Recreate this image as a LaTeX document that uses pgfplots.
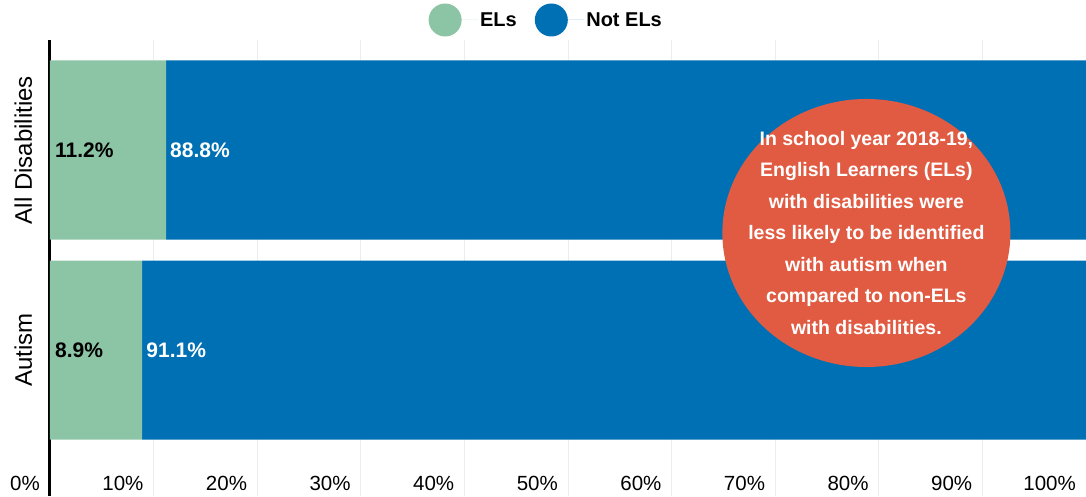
\documentclass[border=0pt]{standalone}
\usepackage{pgfplots}
\pgfplotsset{compat=1.18}
\usepackage{fontspec}
\setmainfont{Liberation Sans}

\definecolor{elgreen}{HTML}{8CC4A6}
\definecolor{notelblue}{HTML}{0070B4}
\definecolor{calloutred}{HTML}{E05B42}
\definecolor{gridgray}{HTML}{EDEDED}

\begin{document}
\begin{tikzpicture}
\begin{axis}[
    xbar stacked,
    scale only axis,
    width=1036pt, height=456pt,
    xmin=0, xmax=100,
    ymin=-0.73, ymax=1.55,
    bar width=0.895,
    clip=false,
    axis y line*=left,
    axis x line*=bottom,
    x axis line style={draw=none},
    y axis line style={black, line width=3pt},
    major tick length=0pt,
    xmajorgrids=true,
    grid style={gridgray, line width=1pt},
    xtick={0,10,...,100},
    xticklabels={0\%,10\%,20\%,30\%,40\%,50\%,60\%,70\%,80\%,90\%,100\%},
    xticklabel style={anchor=east, inner sep=0pt, xshift=-10pt, yshift=13pt,
        font=\fontsize{20.5}{22}\selectfont, text=black},
    ytick={0,1},
    yticklabels={Autism, All Disabilities},
    yticklabel style={xshift=-18pt, rotate=90, anchor=base, inner sep=0pt,
        font=\fontsize{24}{26}\selectfont, text=black},
    legend columns=2,
    legend image code/.code={\fill[#1, draw=none] (0pt,0pt) circle (16.5pt);
        \path (-16.5pt,0pt) -- (33pt,0pt);},
    legend style={at={(0.479,1)}, anchor=center, yshift=20pt, draw=none, fill=none,
        font=\bfseries\fontsize{20}{22}\selectfont,
        /tikz/every even column/.append style={column sep=16pt}},
]

\addplot[fill=elgreen, draw=none] coordinates {(8.9,0) (11.2,1)};
\addplot[fill=notelblue, draw=none] coordinates {(91.1,0) (88.8,1)};
\legend{ELs, Not ELs}

% anchor points for the labels drawn on top after the axis
\coordinate (l1) at (axis cs:0,1);
\coordinate (l2) at (axis cs:11.2,1);
\coordinate (l3) at (axis cs:0,0);
\coordinate (l4) at (axis cs:8.9,0);
\coordinate (c) at (axis cs:78.8,0.585);
\coordinate (bl) at (rel axis cs:0,0);
\coordinate (tr) at (rel axis cs:1,1);
\end{axis}

\tikzset{barlabel/.style={anchor=west, inner sep=0pt, font=\bfseries\fontsize{21}{22}\selectfont}}
\node[barlabel, xshift=5pt, text=black] at (l1) {11.2\%};
\node[barlabel, xshift=4pt, text=white] at (l2) {88.8\%};
\node[barlabel, xshift=5pt, text=black] at (l3) {8.9\%};
\node[barlabel, xshift=4pt, text=white] at (l4) {91.1\%};

\fill[calloutred] (c) ellipse[x radius=144pt, y radius=134pt];
\node[align=center, text=white, font=\bfseries\fontsize{19.5}{31.5}\selectfont]
    at (c) {In school year 2018-19,\\English Learners (ELs)\\with disabilities were\\less likely to be identified\\with autism when\\compared to non-ELs\\with disabilities.};

\pgfresetboundingbox
\path[use as bounding box] ([xshift=-50pt]bl) rectangle ([yshift=40pt]tr);
\end{tikzpicture}
\end{document}
